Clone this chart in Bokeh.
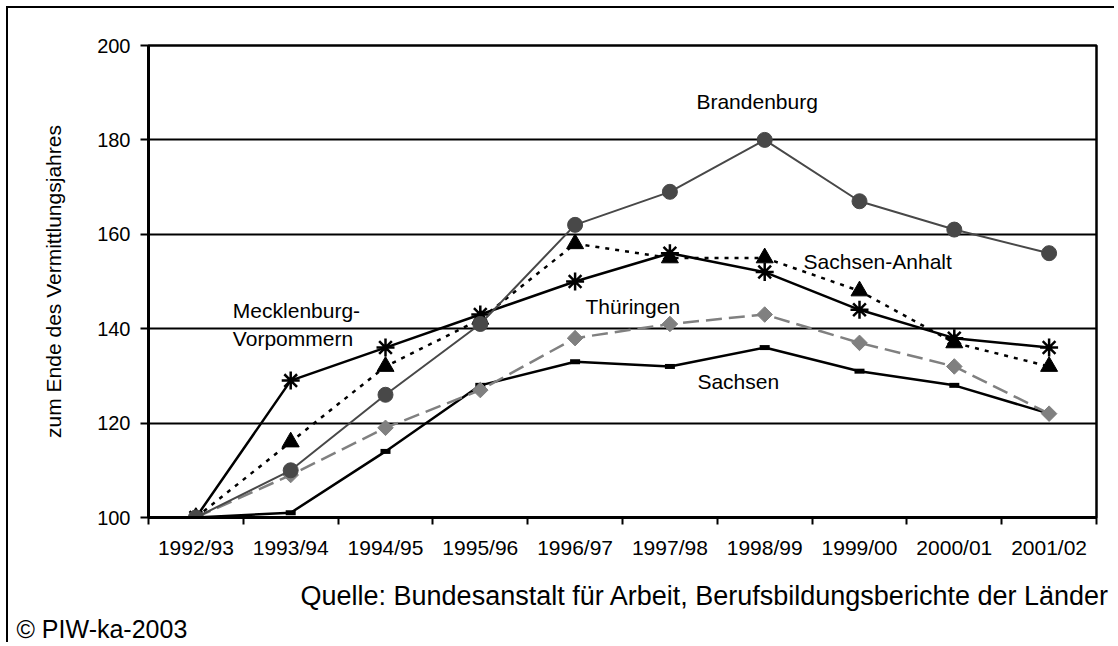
import numpy as np
from bokeh.plotting import figure
from bokeh.models import FixedTicker, Label, Range1d, Title
from bokeh.embed import file_html
from bokeh.resources import INLINE

years = ["1992/93", "1993/94", "1994/95", "1995/96", "1996/97",
         "1997/98", "1998/99", "1999/00", "2000/01", "2001/02"]
brandenburg = [100, 110, 126, 141, 162, 169, 180, 167, 161, 156]
sachsen_anhalt = [100, 116, 132, 142, 158, 155, 155, 148, 137, 132]
meck_vorp = [100, 129, 136, 143, 150, 156, 152, 144, 138, 136]
thueringen = [100, 109, 119, 127, 138, 141, 143, 137, 132, 122]
sachsen = [100, 101, 114, 128, 133, 132, 136, 131, 128, 122]
y_ticks = [100, 120, 140, 160, 180, 200]

FONT = "Liberation Sans"

xpos = [i + 0.5 for i in range(len(years))]

p = figure(width=1108, height=636, output_backend="svg", toolbar_location=None,
           x_range=Range1d(0, len(years)), y_range=Range1d(100, 200),
           min_border_left=140, min_border_right=20, min_border_top=37,
           min_border_bottom=127)
p.styles = {"margin-top": "6px", "margin-left": "6px",
            "border-top": "2px solid black", "border-left": "2px solid black"}
p.background_fill_color = "white"
p.border_fill_color = "white"
p.outline_line_color = "black"
p.outline_line_width = 2.5

# axes
p.xaxis.ticker = FixedTicker(ticks=xpos, minor_ticks=list(range(len(years) + 1)))
p.xaxis.major_label_overrides = {x: y for x, y in zip(xpos, years)}
p.xaxis.major_tick_line_color = None
p.xaxis.major_tick_out = 0
p.xaxis.major_tick_in = 0
p.xaxis.minor_tick_out = 7
p.xaxis.minor_tick_in = 0
p.xaxis.minor_tick_line_color = "black"
p.xaxis.minor_tick_line_width = 2
p.xaxis.axis_line_width = 3
p.xaxis.axis_line_color = "black"
p.xaxis.major_label_standoff = 11
p.xaxis.major_label_text_font = FONT
p.xaxis.major_label_text_font_size = "21px"
p.xaxis.major_label_text_color = "black"

p.yaxis.ticker = FixedTicker(ticks=y_ticks)
p.yaxis.minor_tick_line_color = None
p.yaxis.major_tick_out = 8
p.yaxis.major_tick_in = 0
p.yaxis.major_tick_line_width = 2
p.yaxis.axis_line_width = 3
p.yaxis.major_label_standoff = 10
p.yaxis.major_label_text_font = FONT
p.yaxis.major_label_text_font_size = "20px"
p.yaxis.major_label_text_color = "black"
p.yaxis.axis_label = "zum Ende des Vermittlungsjahres"
p.yaxis.axis_label_text_font = FONT
p.yaxis.axis_label_text_font_size = "21px"
p.yaxis.axis_label_text_font_style = "normal"
p.yaxis.axis_label_text_color = "black"
p.yaxis.axis_label_standoff = 29

p.xgrid.grid_line_color = None
p.ygrid.ticker = FixedTicker(ticks=y_ticks)
p.ygrid.grid_line_color = "black"
p.ygrid.grid_line_width = 2

# series
p.line(xpos, sachsen, line_color="black", line_width=2.5)
p.scatter(xpos, sachsen, marker="dash", size=10, line_width=5, line_color="black")

p.line(xpos, thueringen, line_color="#808080", line_width=2.5, line_dash="16 7")
p.scatter(xpos, thueringen, marker="square", angle=np.pi / 4, size=11,
          fill_color="#808080", line_color="#808080")

p.line(xpos, sachsen_anhalt, line_color="black", line_width=2.5, line_dash="4 6")
p.scatter(xpos, sachsen_anhalt, marker="triangle", size=17,
          fill_color="black", line_color="black")

p.line(xpos, meck_vorp, line_color="black", line_width=2.5)
p.scatter(xpos, meck_vorp, marker="asterisk", size=18, line_width=2.5,
          line_color="black")

p.line(xpos, brandenburg, line_color="#484848", line_width=2)
p.scatter(xpos, brandenburg, marker="circle", size=15,
          fill_color="#484848", line_color="#484848")

# series labels
labels = [
    ("Brandenburg", 5.78, 188.2),
    ("Sachsen-Anhalt", 6.91, 154.3),
    ("Thüringen", 4.61, 144.7),
    ("Sachsen", 5.79, 128.8),
    ("Mecklenburg-", 0.89, 143.9),
    ("Vorpommern", 0.89, 137.9),
]
for t, x, y in labels:
    p.add_layout(Label(x=x, y=y, text=t, text_font=FONT, text_font_size="21px",
                       text_color="black", text_baseline="alphabetic",
                       text_align="left"))

# spacer between axis labels and source note
p.add_layout(Title(text=" ", standoff=12, text_font=FONT, text_font_size="1px"), "below")
p.add_layout(Title(text="Quelle: Bundesanstalt für Arbeit, Berufsbildungsberichte der Länder",
                   align="right", offset=-13, standoff=4,
                   text_font=FONT, text_font_size="27px", text_font_style="normal",
                   text_color="black"), "below")
p.add_layout(Title(text="© PIW-ka-2003", align="left", offset=-132, standoff=0,
                   text_font=FONT, text_font_size="25px", text_font_style="normal",
                   text_color="black"), "below")

open("out.html", "w").write(file_html(p, INLINE))
